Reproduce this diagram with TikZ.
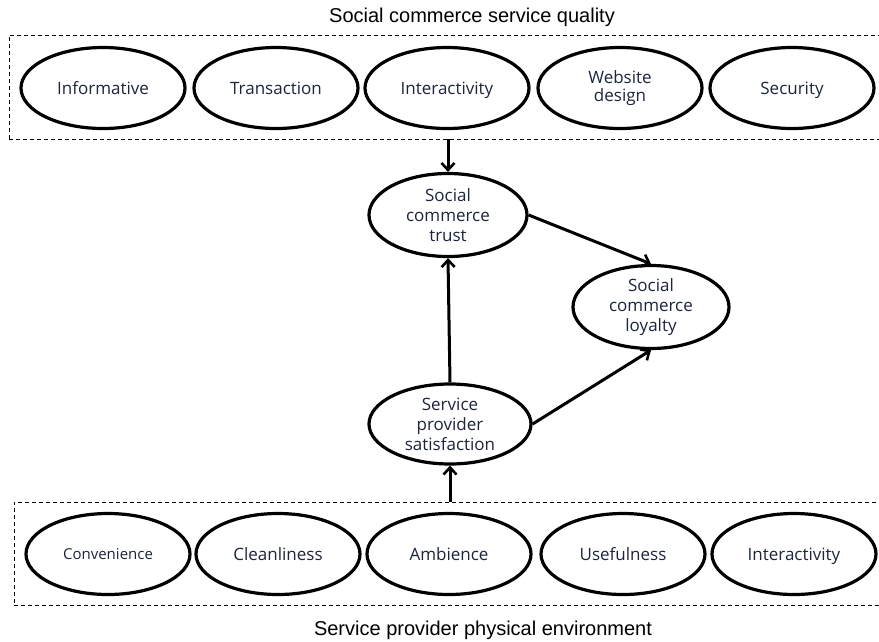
\documentclass[tikz,border=0pt]{standalone}
\usepackage{fontspec}
\setmainfont{Open Sans}
\newfontfamily\titlefont{Liberation Sans}
\usetikzlibrary{shapes.geometric,arrows.meta}
\definecolor{lbl}{RGB}{28,36,62}
\begin{document}
\begin{tikzpicture}[x=1pt,y=-1pt,
  oval/.style={ellipse,draw=black,line width=3.2pt,inner sep=0pt,
    minimum width=164pt,minimum height=81pt,text=lbl,align=center,
    font=\fontsize{17}{20}\selectfont},
  oneline/.style={oval,text height=12pt,text depth=0pt},
  midoval/.style={oval,minimum width=158pt,minimum height=83pt},
  grp/.style={draw=black,dashed,dash pattern=on 4pt off 3pt,line width=0.9pt,inner sep=0pt},
  link/.style={line width=3pt,-{Straight Barb[length=7pt,width=13pt,line width=2.6pt]}},
  ttl/.style={font=\titlefont\fontsize{20}{22}\selectfont,text=black}]
\useasboundingbox (0,0) rectangle (879,641);
% group boxes
\node[grp,minimum width=871pt,minimum height=104pt] (topbox) at (444.5,87) {};
\node[grp,minimum width=866pt,minimum height=103pt] (botbox) at (447,553.5) {};
% titles
\node[ttl] (ttop) at (472,17) {Social commerce service quality};
\node[ttl] (tbot) at (483,630) {Service provider physical environment};
% top ovals
\node[oneline] (inf) at (103,88) {Informative};
\node[oneline] (tra) at (276,88) {Transaction};
\node[oneline] (int) at (447,88) {Interactivity};
\node[oval] (web) at (620,88) {Website\\[-2pt]design};
\node[oneline] (sec) at (792,88) {Security};
% bottom ovals
\node[oneline,font=\fontsize{15}{18}\selectfont,text height=10.6pt] (con) at (108,554) {Convenience};
\node[oneline] (cle) at (278,554) {Cleanliness};
\node[oneline] (amb) at (449,554) {Ambience};
\node[oneline] (use) at (623,554) {Usefulness};
\node[oneline] (int2) at (794,554) {Interactivity};
% middle ovals
\node[midoval] (trust) at (448,215) {Social\\commerce\\trust};
\node[midoval,minimum width=156pt] (loy) at (651,307) {Social\\commerce\\loyalty};
\node[midoval,minimum width=162pt,minimum height=80pt] (sat) at (450,424) {Service\\provider\\satisfaction};
% connectors
\draw[link] (trust.north |- topbox.south) -- (trust.north);
\draw[link] (sat.south |- botbox.north) -- (sat.south);
\draw[link] (sat.north) -- (trust.south);
\draw[link] (trust.east) -- (loy.north);
\draw[link] (sat.east) -- (loy.south);
\end{tikzpicture}
\end{document}
